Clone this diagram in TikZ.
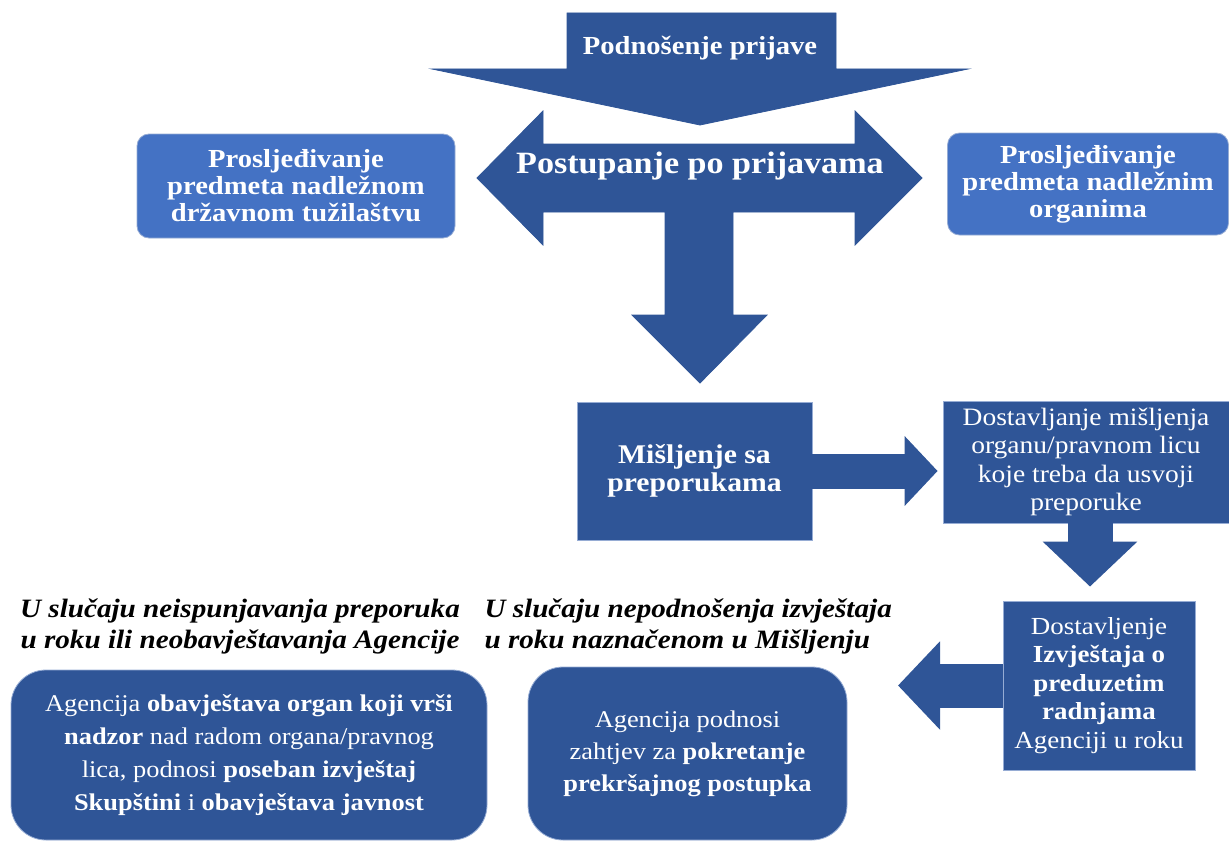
\documentclass[tikz,border=0pt]{standalone}
\usepackage{fontspec}
\setmainfont{Liberation Serif}[FakeStretch=1.1]
\usepackage{tikz}
\usetikzlibrary{arrows.meta}
\definecolor{darkblue}{RGB}{47,85,151}
\definecolor{lightblue}{RGB}{68,114,196}
\definecolor{edgeblue}{RGB}{150,172,212}

\begin{document}
\begin{tikzpicture}[x=1pt, y=-1pt, box/.style={rectangle, draw=edgeblue, fill=darkblue, text=white, line width=0.8pt, align=center, inner sep=0pt}, lbox/.style={box, fill=lightblue, rounded corners=12pt}, rbox/.style={box, rounded corners=35pt}, bold/.style={font=\fontsize{26}{27}\selectfont\bfseries}, reg/.style={font=\fontsize{25}{28.5}\selectfont}, note/.style={font=\fontsize{26.5}{31}\selectfont\bfseries\itshape, align=center}, blk/.style={draw=darkblue, line width=0.8pt, fill=darkblue}]
            \useasboundingbox (0,0) rectangle (1229,843);
            % big arrows
            \draw[blk] (567,13) -- (836,13) -- (836,69) -- (968,69) -- (700,125) -- (432,69) -- (567,69) -- cycle;
            \draw[blk] (477,178) -- (543,111) -- (543,144) -- (855,144) -- (855,111) -- (922,178) -- (855,245) -- (855,212) -- (733,212) -- (733,315) -- (767,315) -- (700,383) -- (632,315) -- (665,315) -- (665,212) -- (543,212) -- (543,245) -- cycle;
            % nodes
            \node[text=white, font=\fontsize{26}{30}\selectfont\bfseries] (podn) at (700,48) {Podnošenje prijave};
            \node[text=white, font=\fontsize{31}{36}\selectfont\bfseries] (post) at (700,166) {Postupanje po prijavama};
            \node[lbox, bold, minimum width=318pt, minimum height=104pt] (tuz) at (296,186) {Prosljeđivanje\\predmeta nadležnom\\državnom tužilaštvu};
            \node[lbox, bold, minimum width=281pt, minimum height=102pt] (org) at (1088,184) {Prosljeđivanje\\predmeta nadležnim\\organima};
            \node[box, bold, font=\fontsize{27}{28}\selectfont\bfseries, minimum width=235pt, minimum height=138pt] (mis) at (694.5,471) {Mišljenje sa\\preporukama};
            \node[box, reg, minimum width=286pt, minimum height=122pt] (dost) at (1086,462) {Dostavljanje mišljenja\\organu/pravnom licu\\koje treba da usvoji\\preporuke};
            \node[box, reg, font=\fontsize{24.5}{28.5}\selectfont, minimum width=192pt, minimum height=169pt] (izv) at (1099,685.5) {Dostavljenje\\\textbf{Izvještaja o}\\\textbf{preduzetim}\\\textbf{radnjama}\\Agenciji u roku};
            \node[note] (note1) at (240,626) {U slučaju neispunjavanja preporuka\\u roku ili neobavještavanja Agencije};
            \node[note, align=left, anchor=west] (note2) at (481,626) {U slučaju nepodnošenja izvještaja\\u roku naznačenom u Mišljenju};
            \node[rbox, font=\fontsize{24}{33}\selectfont, minimum width=476pt, minimum height=170pt] (nadz) at (249,755) {Agencija \textbf{obavještava organ koji vrši}\\\textbf{nadzor} nad radom organa/pravnog\\lica, podnosi \textbf{poseban izvještaj}\\\textbf{Skupštini} i \textbf{obavještava javnost}};
            \node[rbox, font=\fontsize{24}{32}\selectfont, minimum width=319pt, minimum height=173pt] (prek) at (687.5,753.5) {Agencija podnosi\\zahtjev za \textbf{pokretanje}\\\textbf{prekršajnog postupka}};
            \coordinate (lt) at (898,685.5);
            % edges
            \draw[darkblue, line width=35pt, -{Triangle[length=33pt, width=68pt]}, shorten >=5pt] (mis.east) -- (mis.east -| dost.west);
            \draw[darkblue, line width=45pt, -{Triangle[length=45pt, width=92pt]}, shorten >=14pt] ([xshift=4pt]dost.south) -- ([xshift=4pt]dost.south |- izv.north);
            \draw[darkblue, line width=44pt, -{Triangle[length=42pt, width=86pt]}] (izv.west) -- (lt);
        \end{tikzpicture}
\end{document}
